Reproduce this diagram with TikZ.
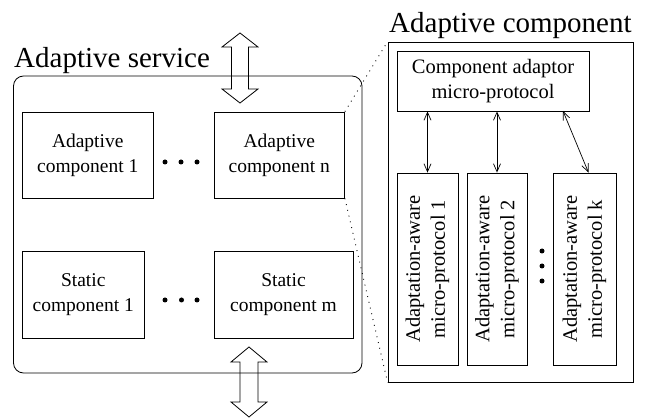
\documentclass[tikz,border=0pt]{standalone}
\usepackage{fontspec}
\setmainfont{Liberation Serif}
\usetikzlibrary{arrows.meta}
\begin{document}
\begin{tikzpicture}[x=1pt,y=-1pt,
  box/.style={draw,line width=0.8pt,inner sep=0pt,align=center},
  lbox/.style={box,font=\fontsize{19.5}{25}\selectfont},
  rbox/.style={box,font=\fontsize{20.5}{25}\selectfont},
  title/.style={font=\fontsize{29}{33}\selectfont,inner sep=0pt,anchor=base west},
  dotline/.style={line width=0.9pt,dash pattern=on 0.9pt off 5pt},
  dbl/.style={draw,line width=0.8pt,line join=miter},
  link/.style={line width=0.7pt,{Straight Barb[length=8pt,width=7pt]}-{Straight Barb[length=8pt,width=7pt]}},
  blob/.style={circle,fill,inner sep=0pt,minimum size=5pt}]
\useasboundingbox (0,0) rectangle (648,419);
% left: adaptive service
\node[title] (st) at (14,68) {Adaptive service};
\draw[line width=0.8pt,rounded corners=10pt] (13.5,76) rectangle (362,373);
\node[lbox,minimum width=130.5pt,minimum height=86pt] (ac1) at (87.75,155) {Adaptive\\component 1};
\node[lbox,minimum width=130.5pt,minimum height=86pt] (acn) at (279.25,155) {Adaptive\\component n};
\node[lbox,minimum width=121.5pt,minimum height=87pt] (sc1) at (83.25,294.5) {Static\\component 1};
\node[lbox,minimum width=139pt,minimum height=87pt] (scm) at (283.5,294.5) {Static\\component m};
\node[blob] (d1) at (165,162) {};
\node[blob] (d2) at (181,162) {};
\node[blob] (d3) at (197,162) {};
\node[blob] (e1) at (165,300) {};
\node[blob] (e2) at (181.5,300) {};
\node[blob] (e3) at (197,300) {};
% double arrows
\draw[dbl] (240,33) -- (258,47) -- (248.5,47) -- (248.5,89) -- (258,89) -- (240,103)
  -- (222,89) -- (231.5,89) -- (231.5,47) -- (222,47) -- cycle;
\draw[dbl] (249,347) -- (267,362) -- (258,362) -- (258,402) -- (267,402) -- (249,417)
  -- (231,402) -- (240,402) -- (240,362) -- (231,362) -- cycle;
% right: adaptive component
\node[title] (ct) at (389,33) {Adaptive component};
\node[draw,line width=0.8pt,inner sep=0pt,minimum width=245pt,minimum height=340pt] (comp) at (510.5,212) {};
\node[rbox,minimum width=192pt,minimum height=60pt] (ad) at (493,81) {Component adaptor\\micro-protocol};
\node[rbox,minimum width=192pt,minimum height=61pt,rotate=90] (m1) at (427.5,269) {Adaptation-aware\\micro-protocol 1};
\node[rbox,minimum width=192pt,minimum height=60pt,rotate=90] (m2) at (497,269) {Adaptation-aware\\micro-protocol 2};
\node[rbox,minimum width=192pt,minimum height=63pt,rotate=90] (mk) at (584.5,269) {Adaptation-aware\\micro-protocol k};
\node[blob] (v1) at (542,251) {};
\node[blob] (v2) at (542,266) {};
\node[blob] (v3) at (542,281) {};
\draw[link] (ad.south -| m1) -- (m1.east);
\draw[link] (ad.south -| m2) -- (m2.east);
\coordinate (ka) at (563,111);
\draw[link] (ka) -- ([xshift=4pt]mk.east);
% zoom lines
\draw[dotline] (acn.north east) -- (comp.north west);
\draw[dotline] (acn.south east) -- (comp.south west);
\end{tikzpicture}
\end{document}
